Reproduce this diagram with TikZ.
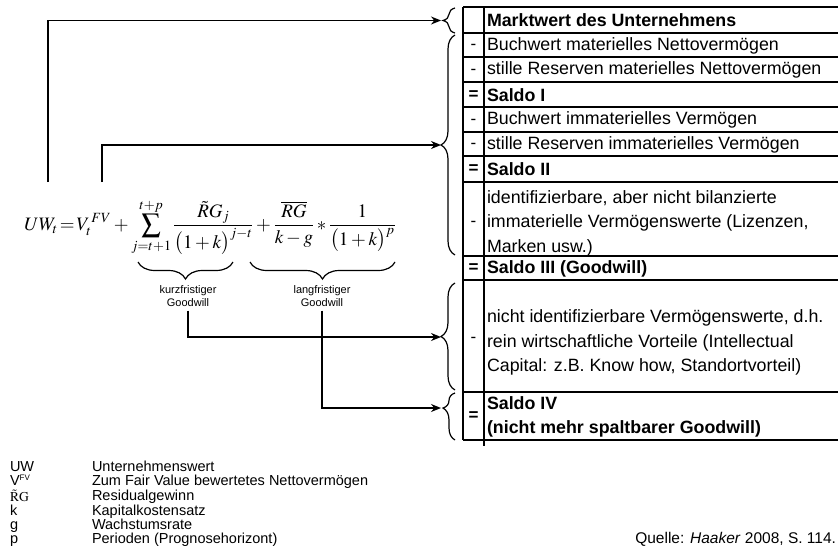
\documentclass[tikz,border=0pt]{standalone}
\usepackage{amsmath}
\usepackage{mathptmx}
\usepackage[no-math]{fontspec}
\setmainfont{Liberation Sans}
\usetikzlibrary{positioning, decorations.pathreplacing, arrows.meta}

\begin{document}
\begin{tikzpicture}[x=1pt, y=-1pt, >={Stealth[length=10pt, width=8pt]}, line width=1.4pt,
    every node/.style={inner sep=0pt, outer sep=0pt},
    rowtext/.style={anchor=west, align=left, font=\fontsize{17.8}{24.5}\selectfont},
    sign/.style={font=\fontsize{17}{18}\selectfont, text height=12pt, text depth=3pt},
    legend/.style={anchor=base west, font=\fontsize{14.5}{15}\selectfont},
    gwlabel/.style={align=center, font=\fontsize{11}{13}\selectfont},
    bracer/.style={decorate, decoration={brace, amplitude=14pt}, line width=1.2pt}]
    \useasboundingbox (0,0) rectangle (838,546);

    % Table grid
    \draw (463,7) -- (838,7);
    \draw (463,33) -- (838,33);
    \draw (463,57) -- (838,57);
    \draw (463,82) -- (838,82);
    \draw (463,107) -- (838,107);
    \draw (463,132) -- (838,132);
    \draw (463,156) -- (838,156);
    \draw (463,182) -- (838,182);
    \draw (463,256) -- (838,256);
    \draw (463,280) -- (838,280);
    \draw (463,392) -- (838,392);
    \draw (463,440) -- (838,440);
    \draw (463,7) -- (463,440);
    \draw (484,7) -- (484,446);

    % Table rows
    \node (mw) [rowtext] at (487,20.5) {\textbf{Marktwert des Unternehmens}};
    \node (bwMat) [rowtext] at (487,45.5) {Buchwert materielles Nettovermögen};
    \node (srMat) [rowtext] at (487,70) {stille Reserven materielles Nettovermögen};
    \node (saldo1) [rowtext] at (487,95) {\textbf{Saldo I}};
    \node (bwImm) [rowtext] at (487,120) {Buchwert immaterielles Vermögen};
    \node (srImm) [rowtext] at (487,144.5) {stille Reserven immaterielles Vermögen};
    \node (saldo2) [rowtext] at (487,169.5) {\textbf{Saldo II}};
    \node (ident) [rowtext] at (487,223) {identifizierbare, aber nicht bilanzierte\\immaterielle Vermögenswerte (Lizenzen,\\Marken usw.)};
    \node (saldo3) [rowtext] at (487,268.5) {\textbf{Saldo III (Goodwill)}};
    \node (nident) [rowtext] at (487,342.5) {nicht identifizierbare Vermögenswerte, d.h.\\rein wirtschaftliche Vorteile (Intellectual\\Capital: z.B. Know how, Standortvorteil)};
    \node (saldo4) [rowtext] at (487,417) {\textbf{Saldo IV}\\\textbf{(nicht mehr spaltbarer Goodwill)}};

    % Signs
    \node (sgBwMat) [sign] at (473.5,45) {-};
    \node (sgSrMat) [sign] at (473.5,69.5) {-};
    \node (sgSaldo1) [sign] at (473.5,94.5) {\textbf{=}};
    \node (sgBwImm) [sign] at (473.5,119.5) {-};
    \node (sgSrImm) [sign] at (473.5,144) {-};
    \node (sgSaldo2) [sign] at (473.5,169) {\textbf{=}};
    \node (sgIdent) [sign] at (473.5,222) {-};
    \node (sgSaldo3) [sign] at (473.5,268) {\textbf{=}};
    \node (sgNident) [sign] at (473.5,338) {-};
    \node (sgSaldo4) [sign] at (473.5,416) {\textbf{=}};

    % Braces at the table
    \draw[bracer, decoration={amplitude=12pt}] (455,33) -- (455,8);
    \draw[bracer] (455,255) -- (455,35);
    \draw[bracer] (455,390) -- (455,283);
    \draw[bracer, decoration={amplitude=12pt, aspect=0.68}] (455,440) -- (455,393);
    \coordinate (tipA) at (441,20.5);
    \coordinate (tipB) at (441,145);
    \coordinate (tipC) at (441,337);
    \coordinate (tipD) at (441,408);

    % Formula
    \node (uw) at (210,227) {\fontsize{19}{23}\selectfont
        $\displaystyle UW_t \!=\! V_t^{\,FV} + \sum_{j=t+1}^{t+p}\frac{\tilde{R}G_j}{\bigl(1+k\bigr)^{j-t}} + \frac{\overline{RG}}{k-g} * \frac{1}{\bigl(1+k\bigr)^{p}}$};
    \draw[bracer, decoration={amplitude=17pt}] (233,262) -- (138,262);
    \draw[bracer, decoration={amplitude=17pt}] (395,262) -- (250,262);
    \node (kurz) [gwlabel] at (188,296) {kurzfristiger\\Goodwill};
    \node (lang) [gwlabel] at (322,296) {langfristiger\\Goodwill};

    % Connection arrows
    \coordinate (uwTop) at (48,182);
    \coordinate (fvTop) at (102,182);
    \draw[->] (uwTop) |- (tipA);
    \draw[->] (fvTop) |- (tipB);
    \draw[->] ([yshift=-4pt]kurz.south) |- (tipC);
    \draw[->] ([yshift=-4pt]lang.south) |- (tipD);

    % Legend
    \node (symUW) [legend] at (10,471) {UW};
    \node (txtUW) [legend] at (92,471) {Unternehmenswert};
    \node (symFV) [legend] at (10,485.5) {V\textsuperscript{\footnotesize FV}};
    \node (txtFV) [legend] at (92,485.5) {Zum Fair Value bewertetes Nettovermögen};
    \node (symRG) [legend] at (10,501) {\fontsize{13.5}{15}\selectfont$\tilde{\mathrm{R}}\mathrm{G}$};
    \node (txtRG) [legend] at (92,500.5) {Residualgewinn};
    \node (symK) [legend] at (10,515) {k};
    \node (txtK) [legend] at (92,515) {Kapitalkostensatz};
    \node (symG) [legend] at (10,529.5) {g};
    \node (txtG) [legend] at (92,529.5) {Wachstumsrate};
    \node (symP) [legend] at (10,543.5) {p};
    \node (txtP) [legend] at (92,543.5) {Perioden (Prognosehorizont)};

    % Source
    \node (quelle) [anchor=base east, font=\fontsize{15.5}{18}\selectfont] at (836,543.5) {Quelle: \textit{Haaker} 2008, S. 114.};
\end{tikzpicture}
\end{document}
